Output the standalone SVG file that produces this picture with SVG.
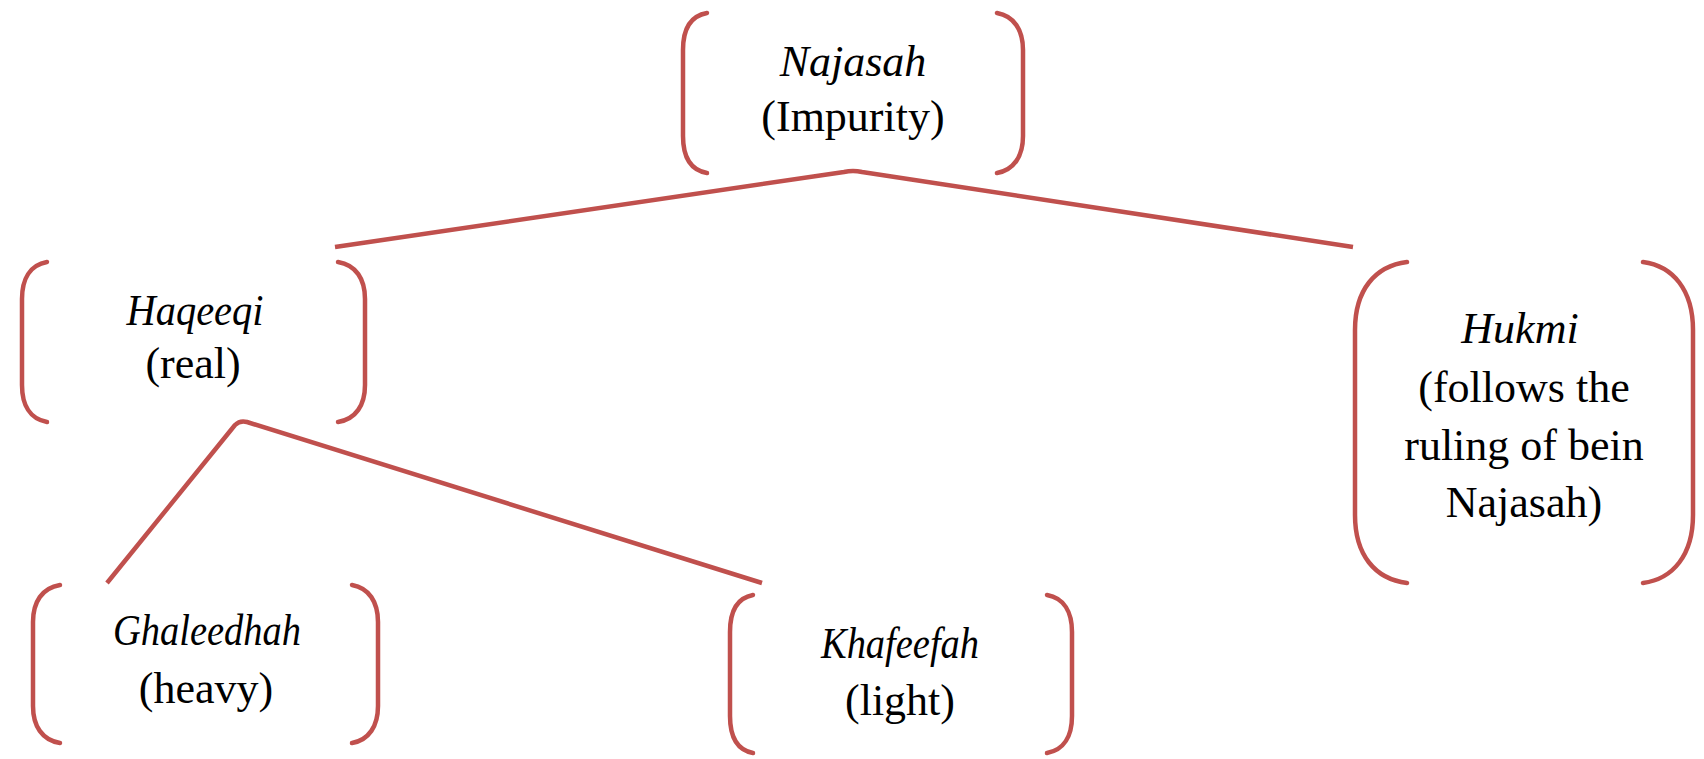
<svg xmlns="http://www.w3.org/2000/svg" width="1704" height="759" viewBox="0 0 1704 759">
<style>
.br{fill:none;stroke:#C0504D;stroke-width:4.5;stroke-linecap:round;stroke-linejoin:round}
.cn{fill:none;stroke:#C0504D;stroke-width:4.5;stroke-linecap:butt;stroke-linejoin:round}
text{font-family:"Liberation Serif","Times New Roman",serif;font-size:44px;fill:#000;text-anchor:middle}
.it{font-style:italic}
</style>
<rect width="1704" height="759" fill="#fff"/>
<g id="connectors">
<path class="cn" d="M335,247 L844,172 Q853,170 862,172 L1353,247"/>
<path class="cn" d="M107,583 L235,425 Q240,420 247,422 L762,583"/>
</g>
<g id="n-najasah">
<path class="br" d="M707,13 C690,16 683,30 683,50 L683,136 C683,156 690,170 707,173"/>
<path class="br" d="M997,13 C1014,16 1023,30 1023,50 L1023,136 C1023,156 1014,170 997,173"/>
<text class="it" x="853" y="76">Najasah</text>
<text x="853" y="131">(Impurity)</text>
</g>
<g id="n-haqeeqi">
<path class="br" d="M47,262 C30,265 22,279 22,299 L22,385 C22,405 30,419 47,422"/>
<path class="br" d="M338,262 C356,265 365,279 365,299 L365,385 C365,405 356,419 338,422"/>
<text class="it" x="195" y="325" textLength="137" lengthAdjust="spacingAndGlyphs">Haqeeqi</text>
<text x="193" y="378">(real)</text>
</g>
<g id="n-hukmi">
<path class="br" d="M1407,262 C1375,266 1355,290 1355,330 L1355,515 C1355,555 1375,579 1407,583"/>
<path class="br" d="M1643,262 C1673,266 1693,290 1693,330 L1693,515 C1693,555 1673,579 1643,583"/>
<text class="it" x="1520" y="343">Hukmi</text>
<text x="1524" y="402">(follows the</text>
<text x="1524" y="460">ruling of bein</text>
<text x="1524" y="517">Najasah)</text>
</g>
<g id="n-ghaleedhah">
<path class="br" d="M60,585 C42,588 33,602 33,622 L33,706 C33,726 42,740 60,743"/>
<path class="br" d="M352,585 C369,588 378,602 378,622 L378,706 C378,726 369,740 352,743"/>
<text class="it" x="207" y="645" textLength="188" lengthAdjust="spacingAndGlyphs">Ghaleedhah</text>
<text x="206" y="703">(heavy)</text>
</g>
<g id="n-khafeefah">
<path class="br" d="M753,595 C737,598 730,612 730,632 L730,716 C730,736 737,750 753,753"/>
<path class="br" d="M1047,595 C1064,598 1072,612 1072,632 L1072,716 C1072,736 1064,750 1047,753"/>
<text class="it" x="900" y="658" textLength="158" lengthAdjust="spacingAndGlyphs">Khafeefah</text>
<text x="900" y="715">(light)</text>
</g>
</svg>
